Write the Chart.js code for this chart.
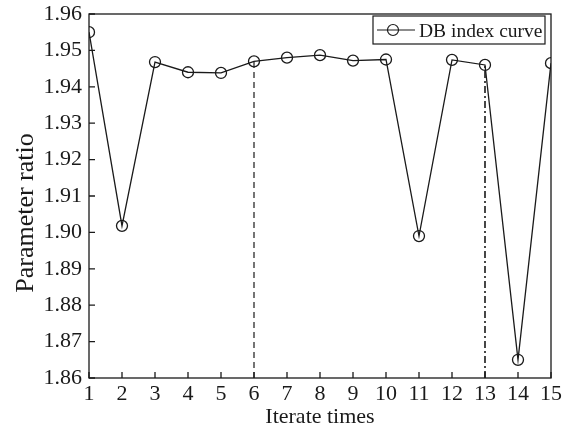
<!DOCTYPE html>
<html>
<head>
<meta charset="utf-8">
<script src="https://cdn.jsdelivr.net/npm/chart.js@4/dist/chart.umd.min.js"></script>
<style>
  html, body { margin: 0; padding: 0; background: #fff; }
  #wrap { width: 571px; height: 427px; }
</style>
</head>
<body>
<div id="wrap"><canvas id="c" width="571" height="427"></canvas></div>
<script>
// ---- data ----
const iterations = [1, 2, 3, 4, 5, 6, 7, 8, 9, 10, 11, 12, 13, 14, 15];
const dbIndex = [1.955, 1.9018, 1.9468, 1.944, 1.9438, 1.947, 1.948, 1.9487, 1.9472, 1.9475, 1.899, 1.9474, 1.946, 1.865, 1.9465];
const seriesLabel = 'DB index curve';
const xTitle = 'Iterate times';
const yTitle = 'Parameter ratio';
const dashedAt = 6;      // dashed marker line
const dashDotAt = 13;    // dash-dot marker line
const yMin = 1.86, yMax = 1.96, yStep = 0.01;
const xMin = 1, xMax = 15;

const ink = '#1a1a1a';
const serif = "'Liberation Serif', 'Times New Roman', serif";

const points = iterations.map((x, i) => ({ x: x, y: dbIndex[i] }));
const valueAt = x => dbIndex[iterations.indexOf(x)];

// frame, inward ticks, y title and legend box
const framePlugin = {
    id: 'frame',
    afterDraw(chart) {
        const ctx = chart.ctx, a = chart.chartArea;
        const xs = chart.scales.x, ys = chart.scales.y;
        ctx.save();
        ctx.strokeStyle = ink;
        ctx.lineWidth = 1.3;
        ctx.strokeRect(a.left, a.top, a.right - a.left, a.bottom - a.top);
        ctx.beginPath();
        xs.ticks.forEach(t => {
            const px = xs.getPixelForValue(t.value);
            ctx.moveTo(px, a.bottom);
            ctx.lineTo(px, a.bottom - 6);
        });
        ys.ticks.forEach(t => {
            const py = ys.getPixelForValue(t.value);
            ctx.moveTo(a.left, py);
            ctx.lineTo(a.left + 6, py);
        });
        ctx.stroke();

        // y axis title
        ctx.fillStyle = ink;
        ctx.save();
        ctx.translate(26, 213);
        ctx.rotate(-Math.PI / 2);
        ctx.font = '26px ' + serif;
        ctx.textAlign = 'center';
        ctx.textBaseline = 'middle';
        ctx.fillText(yTitle, 0, 0);
        ctx.restore();

        // legend
        const lx = 373, ly = 16, lw = 172, lh = 28;
        ctx.fillStyle = '#fff';
        ctx.fillRect(lx, ly, lw, lh);
        ctx.lineWidth = 1.2;
        ctx.strokeRect(lx, ly, lw, lh);
        const cy = ly + lh / 2;
        ctx.beginPath();
        ctx.moveTo(lx + 4, cy);
        ctx.lineTo(lx + 42, cy);
        ctx.stroke();
        ctx.beginPath();
        ctx.arc(lx + 20, cy, 5.5, 0, Math.PI * 2);
        ctx.stroke();
        ctx.fillStyle = ink;
        ctx.font = '19.5px ' + serif;
        ctx.textBaseline = 'alphabetic';
        ctx.textAlign = 'left';
        ctx.fillText(seriesLabel, lx + 46, 37);
        ctx.restore();
    }
};

new Chart(document.getElementById('c'), {
    type: 'line',
    data: {
        datasets: [{
            label: seriesLabel,
            data: points,
            borderColor: ink,
            borderWidth: 1.3,
            pointRadius: 5.5,
            pointBorderWidth: 1.3,
            pointBorderColor: ink,
            pointBackgroundColor: 'rgba(0,0,0,0)',
            tension: 0
        }, {
            label: 'dashed',
            data: [{ x: dashedAt, y: yMin }, { x: dashedAt, y: valueAt(dashedAt) }],
            borderColor: ink,
            borderWidth: 1.2,
            borderDash: [6, 4],
            pointRadius: 0
        }, {
            label: 'dashdot',
            data: [{ x: dashDotAt, y: yMin }, { x: dashDotAt, y: valueAt(dashDotAt) }],
            borderColor: ink,
            borderWidth: 1.6,
            borderDash: [7, 3, 2, 3],
            pointRadius: 0
        }]
    },
    options: {
        responsive: false,
        animation: false,
        layout: { padding: { left: 0, right: 20, top: 14, bottom: 0 } },
        plugins: { legend: { display: false }, tooltip: { enabled: false } },
        scales: {
            x: {
                type: 'linear',
                min: xMin,
                max: xMax,
                grid: { display: false, drawTicks: false },
                border: { display: false },
                ticks: { stepSize: 1, color: ink, font: { family: serif, size: 22 }, padding: 3, maxRotation: 0 },
                title: { display: true, text: xTitle, color: ink, font: { family: serif, size: 22 }, padding: { top: 0, bottom: -3 } },
                afterFit(s) { s.height = 49; }
            },
            y: {
                min: yMin,
                max: yMax,
                grid: { display: false, drawTicks: false },
                border: { display: false },
                ticks: {
                    stepSize: yStep,
                    color: ink,
                    font: { family: serif, size: 22 },
                    padding: 7,
                    callback: v => v.toFixed(2)
                },
                afterFit(s) { s.width = 89; s.paddingTop = 0; s.paddingBottom = 0; }
            }
        }
    },
    plugins: [framePlugin]
});
</script>
</body>
</html>
